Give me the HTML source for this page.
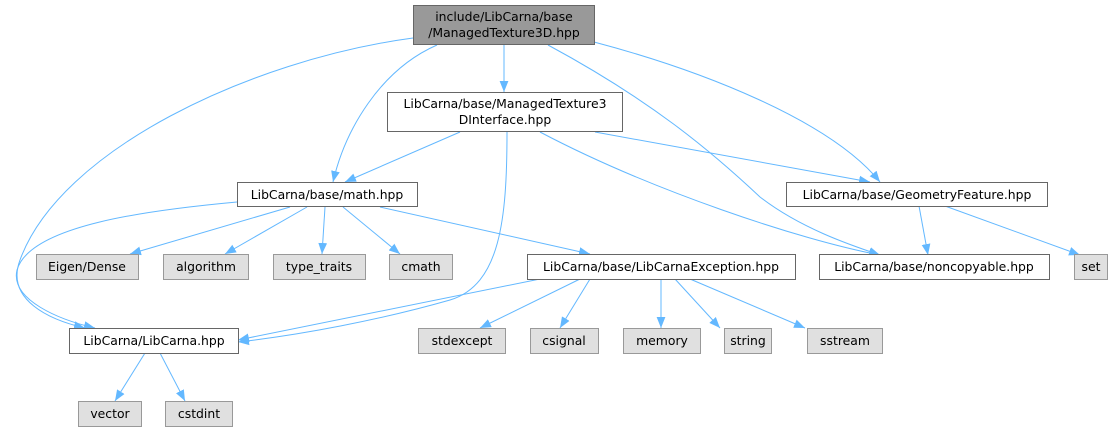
<!DOCTYPE html>
<html><head><meta charset="utf-8"><style>
html,body{margin:0;padding:0;background:#fff;}
svg{display:block;}
text{font-family:"DejaVu Sans","Liberation Sans",sans-serif;font-size:12.4px;fill:#000;}
</style></head><body>
<svg width="1119" height="432" viewBox="0 0 1119 432" xmlns="http://www.w3.org/2000/svg">
<defs>
<marker id="a" viewBox="0 0 10 8" refX="10" refY="4" markerWidth="11" markerHeight="9" markerUnits="userSpaceOnUse" orient="auto">
<path d="M0,0 L10,4 L0,8 Z" fill="#63b8ff"/>
</marker>
</defs>
<g fill="none" stroke="#63b8ff" stroke-width="1" marker-end="url(#a)">
<path d="M413,38 C250,60 60,150 20,260 C5,300 50,320 85,328"/>
<path d="M437,45 C380,70 345,130 333,182"/>
<path d="M504,45 L504,92"/>
<path d="M548,45 C650,100 710,150 760,197 C800,228 850,245 880,255"/>
<path d="M594,42 C700,70 830,120 880,182"/>
<path d="M460,132 L345,182"/>
<path d="M507,132 C507,220 500,285 450,300 C380,320 300,335 238,342"/>
<path d="M595,132 L870,182"/>
<path d="M540,132 C650,190 800,240 880,255"/>
<path d="M237,202 C150,210 30,225 17,270 C10,300 60,320 95,328"/>
<path d="M290,207 L130,254"/>
<path d="M307,207 L225,254"/>
<path d="M325,207 L322,254"/>
<path d="M343,207 L400,254"/>
<path d="M380,207 L590,254"/>
<path d="M540,279 L238,340"/>
<path d="M580,279 L480,328"/>
<path d="M590,279 L560,328"/>
<path d="M661,279 L661,328"/>
<path d="M675,279 L720,328"/>
<path d="M690,279 L805,328"/>
<path d="M919,206 L928,255"/>
<path d="M945,206 L1080,255"/>
<path d="M145,353 L115,401"/>
<path d="M160,353 L185,401"/>
</g>
<g stroke-width="1">
<rect x="413.5" y="5.5" width="181" height="39" fill="#999999" stroke="#666"/>
<text x="504" y="21" text-anchor="middle">include/LibCarna/base</text>
<text x="504" y="37" text-anchor="middle">/ManagedTexture3D.hpp</text>

<rect x="387.5" y="92.5" width="235" height="39" fill="#fff" stroke="#666"/>
<text x="505" y="108" text-anchor="middle">LibCarna/base/ManagedTexture3</text>
<text x="505" y="124" text-anchor="middle">DInterface.hpp</text>

<rect x="237.5" y="182.5" width="180" height="24" fill="#fff" stroke="#666"/>
<text x="327" y="199" text-anchor="middle">LibCarna/base/math.hpp</text>

<rect x="786.5" y="182.5" width="261" height="24" fill="#fff" stroke="#666"/>
<text x="917" y="199" text-anchor="middle">LibCarna/base/GeometryFeature.hpp</text>

<rect x="36.5" y="254.5" width="102" height="25" fill="#e0e0e0" stroke="#999"/>
<text x="87" y="271" text-anchor="middle">Eigen/Dense</text>
<rect x="163.5" y="254.5" width="85" height="25" fill="#e0e0e0" stroke="#999"/>
<text x="206" y="271" text-anchor="middle">algorithm</text>
<rect x="273.5" y="254.5" width="92" height="25" fill="#e0e0e0" stroke="#999"/>
<text x="319" y="271" text-anchor="middle">type_traits</text>
<rect x="389.5" y="254.5" width="63" height="25" fill="#e0e0e0" stroke="#999"/>
<text x="421" y="271" text-anchor="middle">cmath</text>
<rect x="527.5" y="254.5" width="268" height="25" fill="#fff" stroke="#666"/>
<text x="661" y="271" text-anchor="middle">LibCarna/base/LibCarnaException.hpp</text>
<rect x="819.5" y="254.5" width="230" height="25" fill="#fff" stroke="#666"/>
<text x="934" y="271" text-anchor="middle">LibCarna/base/noncopyable.hpp</text>
<rect x="1074.5" y="254.5" width="33" height="25" fill="#e0e0e0" stroke="#999"/>
<text x="1091" y="271" text-anchor="middle">set</text>

<rect x="69.5" y="328.5" width="169" height="25" fill="#fff" stroke="#666"/>
<text x="154" y="345" text-anchor="middle">LibCarna/LibCarna.hpp</text>
<rect x="418.5" y="328.5" width="87" height="25" fill="#e0e0e0" stroke="#999"/>
<text x="462" y="345" text-anchor="middle">stdexcept</text>
<rect x="530.5" y="328.5" width="68" height="25" fill="#e0e0e0" stroke="#999"/>
<text x="564" y="345" text-anchor="middle">csignal</text>
<rect x="623.5" y="328.5" width="77" height="25" fill="#e0e0e0" stroke="#999"/>
<text x="662" y="345" text-anchor="middle">memory</text>
<rect x="724.5" y="328.5" width="47" height="25" fill="#e0e0e0" stroke="#999"/>
<text x="748" y="345" text-anchor="middle">string</text>
<rect x="807.5" y="328.5" width="75" height="25" fill="#e0e0e0" stroke="#999"/>
<text x="845" y="345" text-anchor="middle">sstream</text>

<rect x="78.5" y="401.5" width="63" height="25" fill="#e0e0e0" stroke="#999"/>
<text x="110" y="418" text-anchor="middle">vector</text>
<rect x="165.5" y="401.5" width="67" height="25" fill="#e0e0e0" stroke="#999"/>
<text x="199" y="418" text-anchor="middle">cstdint</text>
</g>
</svg>
</body></html>
